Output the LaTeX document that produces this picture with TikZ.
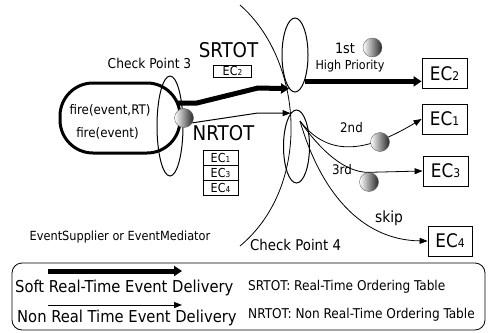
\documentclass[tikz,border=0pt]{standalone}
\usepackage{fontspec}
\setmainfont{DejaVu Sans Condensed}
\usetikzlibrary{shapes.geometric, arrows.meta}

\newcommand{\setfs}[1]{\fontsize{#1}{#1}\selectfont}
\newcommand{\ecbig}[1]{{\setfs{18.7}EC{\setfs{12}#1}}}
\newcommand{\ecsmall}[1]{{\setfs{12.4}EC{\setfs{8.2}#1}}}

\begin{document}
\begin{tikzpicture}[x=1pt, y=-1pt,
    checkpoint/.style={ellipse, draw, line width=1pt, inner sep=0pt, minimum width=26pt},
    ball/.style={circle, draw=black!60, left color=white, right color=black!85, inner sep=0pt, minimum size=19pt},
    ecbox/.style={draw, line width=0.8pt, minimum width=45pt, minimum height=30pt, inner sep=0pt},
    tablebox/.style={draw, line width=0.6pt, minimum width=35pt, minimum height=15pt, inner sep=0pt},
    txt/.style={inner sep=0pt},
    rtarrow/.style={line width=5pt, -{Triangle[length=8pt,width=10pt]}},
    nrtarrow/.style={line width=1pt, -{Triangle[length=8pt,width=6pt]}},
    thinline/.style={line width=0.8pt}
  ]
  \useasboundingbox (0,0) rectangle (489,332);

  % Supplier and check points
  \node[draw, line width=3pt, rounded corners=33pt, minimum width=120pt, minimum height=70pt] (supplier) at (120,118) {};
  \node[txt, font=\setfs{13.2}] (fire1) at (110,110) {fire(event,RT)};
  \node[txt, font=\setfs{13.2}] (fire2) at (107.5,133) {fire(event)};
  \node[checkpoint, minimum height=100pt] (cp3) at (170,126) {};
  \node[checkpoint, minimum height=74pt] (cpsrt) at (295,55) {};
  \node[checkpoint, minimum height=73pt] (cpnrt) at (296.5,146.5) {};
  \node[ball] (srcball) at (184,118) {};

  % Labels
  \node[txt, font=\setfs{13.6}] (cp3label) at (149.5,63) {Check Point 3};
  \node[txt, font=\setfs{14.8}, anchor=west] (cp4label) at (250,245) {Check Point 4};
  \node[txt, font=\setfs{12.6}] (suplabel) at (120,237) {EventSupplier or EventMediator};
  \node[txt, font=\setfs{20.3}] (srtot) at (228.5,50) {SRTOT};
  \node[txt, font=\setfs{20.3}] (nrtot) at (223.5,133) {NRTOT};
  \node[txt, font=\setfs{14.3}] (first) at (345,48) {1st};
  \node[txt, font=\setfs{12.4}] (hiprio) at (350,66) {High Priority};
  \node[txt, font=\setfs{13.2}] (second) at (351.5,128) {2nd};
  \node[txt, font=\setfs{13.2}] (third) at (342,170) {3rd};
  \node[txt, font=\setfs{15.4}] (skip) at (389,218) {skip};

  % Ordering tables
  \node[tablebox, minimum width=38pt, minimum height=12pt] (srt2) at (232.5,71) {\ecsmall{2}};
  \node[tablebox] (nrt1) at (220.5,157.5) {\ecsmall{1}};
  \node[tablebox] (nrt3) at (220.5,172.5) {\ecsmall{3}};
  \node[tablebox] (nrt4) at (220.5,187.5) {\ecsmall{4}};

  % Consumers
  \node[ecbox] (ec2) at (444.5,73.5) {\ecbig{2}};
  \node[ecbox] (ec1) at (444.5,119) {\ecbig{1}};
  \node[ecbox] (ec3) at (445.5,171) {\ecbig{3}};
  \node[ecbox, minimum width=44pt] (ec4) at (450,241) {\ecbig{4}};
  \node[ball] (ball1) at (372.5,47.5) {};
  \node[ball] (ball3) at (369,182) {};

  % Check point 4
  \draw[thinline] (240,5) .. controls (303,60) and (313,185) .. (240,246);

  % Delivery
  \coordinate (rtout) at (177,103);
  \coordinate (fan) at (300,121);
  \draw[rtarrow] (rtout) -- (197,103) -- (258,88) -- (cpsrt.260);
  \draw[nrtarrow] (srcball.-30) -- (258,113) -- (cpnrt.100);
  \draw[rtarrow] (cpsrt.-70) -- (ec2.west |- cpsrt.-70);
  \draw[thinline, -{Triangle[length=8pt,width=6pt]}] (fan) .. controls (330,160) and (370,150) .. (ec1.west);
  \draw[thinline, -{Triangle[length=8pt,width=6pt]}] (fan) .. controls (320,150) and (345,173) .. (ball3.north) -- (ec3.west);
  \draw[thinline, -{Triangle[length=8pt,width=6pt]}] (fan) .. controls (320,190) and (360,240) .. (ec4.west);
  \node[ball] (ball2) at (380,142) {};

  % Legend
  \node[draw, line width=0.8pt, rounded corners=10pt, minimum width=473pt, minimum height=67pt] (legend) at (248.5,296.5) {};
  \coordinate (lg1a) at (48,271);
  \coordinate (lg1b) at (182,271);
  \coordinate (lg2a) at (48,305);
  \coordinate (lg2b) at (182,305);
  \draw[rtarrow] (lg1a) -- (lg1b);
  \draw[nrtarrow] (lg2a) -- (lg2b);
  \node[txt, font=\setfs{16.4}, anchor=west] (softtxt) at (15,288) {Soft Real-Time Event Delivery};
  \node[txt, font=\setfs{16.4}, anchor=west] (nontxt) at (17,318) {Non Real Time Event Delivery};
  \node[txt, font=\setfs{13.5}, anchor=west] (srtottxt) at (248,287) {SRTOT: Real-Time Ordering Table};
  \node[txt, font=\setfs{13.5}, anchor=west] (nrtottxt) at (248,315) {NRTOT: Non Real-Time Ordering Table};
\end{tikzpicture}
\end{document}
